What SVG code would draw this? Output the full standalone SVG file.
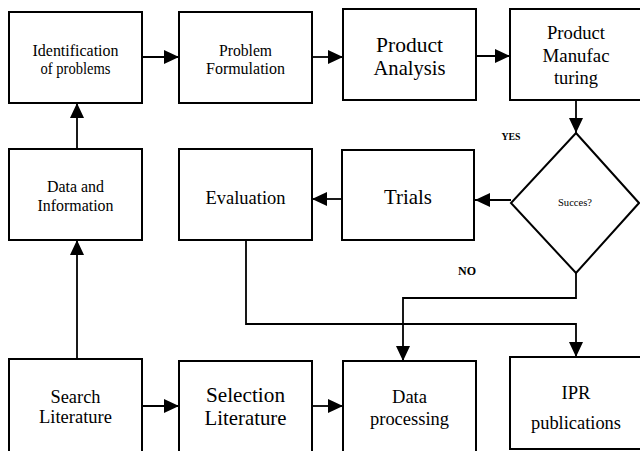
<svg xmlns="http://www.w3.org/2000/svg" width="640" height="451" viewBox="0 0 640 451">
<style>
.box{fill:#fff;stroke:#000;stroke-width:2}
.ln{fill:none;stroke:#000;stroke-width:1.8}
text{fill:#000;text-anchor:middle;font-family:'Liberation Serif','Times New Roman','DejaVu Serif',serif}
.b{font-weight:bold}
</style>
<defs>
<marker id="ah" markerUnits="userSpaceOnUse" markerWidth="15" markerHeight="14" refX="15" refY="7" orient="auto">
<polygon points="0,0 15,7 0,14" fill="#000"/>
</marker>
</defs>
<rect width="640" height="451" fill="#fff"/>
<g id="connectors">
<line class="ln" x1="142" y1="57" x2="179" y2="57" marker-end="url(#ah)"/>
<line class="ln" x1="312" y1="57" x2="343" y2="57" marker-end="url(#ah)"/>
<line class="ln" x1="476" y1="56" x2="510" y2="56" marker-end="url(#ah)"/>
<line class="ln" x1="576" y1="100" x2="576" y2="133" marker-end="url(#ah)"/>
<line class="ln" x1="511" y1="200" x2="475" y2="200" marker-end="url(#ah)"/>
<line class="ln" x1="342" y1="199" x2="312" y2="199" marker-end="url(#ah)"/>
<polyline class="ln" points="246,240 246,324 576,324 576,357" marker-end="url(#ah)"/>
<polyline class="ln" points="576,273 576,298 403,298 403,361" marker-end="url(#ah)"/>
<line class="ln" x1="77" y1="149" x2="77" y2="103" marker-end="url(#ah)"/>
<line class="ln" x1="77" y1="359" x2="77" y2="240" marker-end="url(#ah)"/>
<line class="ln" x1="142" y1="406" x2="179" y2="406" marker-end="url(#ah)"/>
<line class="ln" x1="312" y1="406" x2="343" y2="406" marker-end="url(#ah)"/>
</g>
<g id="identification">
<rect class="box" x="9" y="12" width="133" height="91"/>
<text x="75.5" y="56" font-size="16" textLength="86" lengthAdjust="spacingAndGlyphs">Identification</text>
<text x="75.5" y="74" font-size="16" textLength="70" lengthAdjust="spacingAndGlyphs">of problems</text>
</g>
<g id="formulation">
<rect class="box" x="179" y="12" width="133" height="91"/>
<text x="245.5" y="56" font-size="16" textLength="53" lengthAdjust="spacingAndGlyphs">Problem</text>
<text x="245.5" y="74" font-size="16" textLength="79" lengthAdjust="spacingAndGlyphs">Formulation</text>
</g>
<g id="analysis">
<rect class="box" x="343" y="9" width="133" height="91"/>
<text x="409.5" y="52" font-size="21" textLength="67" lengthAdjust="spacingAndGlyphs">Product</text>
<text x="409.5" y="75" font-size="21" textLength="72" lengthAdjust="spacingAndGlyphs">Analysis</text>
</g>
<g id="manufacturing">
<rect class="box" x="510" y="9" width="140" height="91"/>
<text x="576" y="39" font-size="18.5" textLength="58" lengthAdjust="spacingAndGlyphs">Product</text>
<text x="576" y="62" font-size="18.5" textLength="67" lengthAdjust="spacingAndGlyphs">Manufac</text>
<text x="576" y="84" font-size="18.5" textLength="44" lengthAdjust="spacingAndGlyphs">turing</text>
</g>
<g id="datainfo">
<rect class="box" x="9" y="149" width="133" height="91"/>
<text x="75.5" y="192" font-size="16" textLength="57" lengthAdjust="spacingAndGlyphs">Data and</text>
<text x="75.5" y="211" font-size="16" textLength="76" lengthAdjust="spacingAndGlyphs">Information</text>
</g>
<g id="evaluation">
<rect class="box" x="179" y="149" width="133" height="91"/>
<text x="245.5" y="204" font-size="18.5" textLength="80" lengthAdjust="spacingAndGlyphs">Evaluation</text>
</g>
<g id="trials">
<rect class="box" x="342" y="150" width="132" height="90"/>
<text x="408" y="204" font-size="21" textLength="48" lengthAdjust="spacingAndGlyphs">Trials</text>
</g>
<g id="succes">
<polygon class="box" points="576,133 639,203 576,273 511,203"/>
<text x="575" y="205.5" font-size="10.5" textLength="34" lengthAdjust="spacingAndGlyphs">Succes?</text>
</g>
<text class="b" x="511" y="140" font-size="10" textLength="19" lengthAdjust="spacingAndGlyphs">YES</text>
<text class="b" x="467" y="275" font-size="12" textLength="18" lengthAdjust="spacingAndGlyphs">NO</text>
<g id="search">
<rect class="box" x="9" y="359" width="133" height="100"/>
<text x="75.5" y="403" font-size="18.5" textLength="50" lengthAdjust="spacingAndGlyphs">Search</text>
<text x="75.5" y="423" font-size="18.5" textLength="73" lengthAdjust="spacingAndGlyphs">Literature</text>
</g>
<g id="selection">
<rect class="box" x="179" y="361" width="133" height="100"/>
<text x="245.5" y="402" font-size="21" textLength="79" lengthAdjust="spacingAndGlyphs">Selection</text>
<text x="245.5" y="425" font-size="21" textLength="82" lengthAdjust="spacingAndGlyphs">Literature</text>
</g>
<g id="dataprocessing">
<rect class="box" x="343" y="361" width="133" height="100"/>
<text x="409.5" y="403" font-size="18.5" textLength="35" lengthAdjust="spacingAndGlyphs">Data</text>
<text x="409.5" y="425" font-size="18.5" textLength="79" lengthAdjust="spacingAndGlyphs">processing</text>
</g>
<g id="ipr">
<rect class="box" x="510" y="357" width="140" height="92"/>
<text x="576" y="399" font-size="18.5" textLength="29" lengthAdjust="spacingAndGlyphs">IPR</text>
<text x="576" y="429" font-size="18.5" textLength="90" lengthAdjust="spacingAndGlyphs">publications</text>
</g>
</svg>
